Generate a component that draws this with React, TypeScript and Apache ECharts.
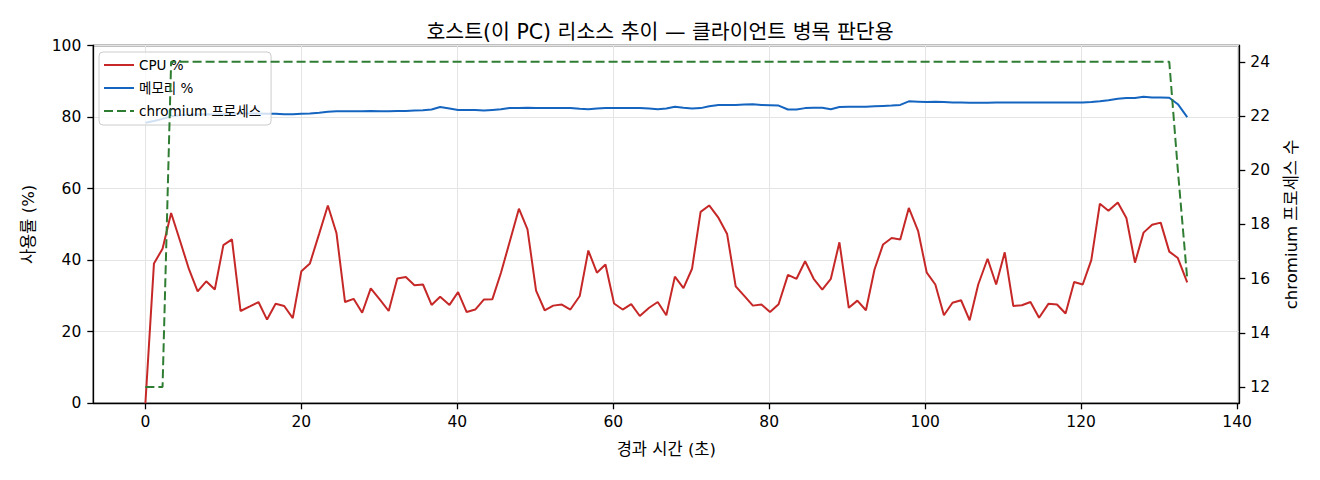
import React, { useEffect, useRef } from 'react';
import * as echarts from 'echarts';

// elapsed seconds of each sample
const times = [
  0, 1.1, 2.2, 3.3, 4.5, 5.6, 6.7, 7.8, 8.9, 10.0,
  11.1, 12.2, 13.4, 14.5, 15.6, 16.7, 17.8, 18.9, 20.0, 21.1,
  22.3, 23.4, 24.5, 25.6, 26.7, 27.8, 28.9, 30.1, 31.2, 32.3,
  33.4, 34.5, 35.6, 36.7, 37.8, 39.0, 40.1, 41.2, 42.3, 43.4,
  44.5, 45.6, 46.7, 47.9, 49.0, 50.1, 51.2, 52.3, 53.4, 54.5,
  55.7, 56.8, 57.9, 59.0, 60.1, 61.2, 62.3, 63.4, 64.6, 65.7,
  66.8, 67.9, 69.0, 70.1, 71.2, 72.3, 73.5, 74.6, 75.7, 76.8,
  77.9, 79.0, 80.1, 81.2, 82.4, 83.5, 84.6, 85.7, 86.8, 87.9,
  89.0, 90.2, 91.3, 92.4, 93.5, 94.6, 95.7, 96.8, 97.9, 99.1,
  100.2, 101.3, 102.4, 103.5, 104.6, 105.7, 106.8, 108.0, 109.1, 110.2,
  111.3, 112.4, 113.5, 114.6, 115.8, 116.9, 118.0, 119.1, 120.2, 121.3,
  122.4, 123.5, 124.7, 125.8, 126.9, 128.0, 129.1, 130.2, 131.3, 132.4,
  133.6,
];

const cpu = [
  0, 39.1, 43.2, 53.2, 45.0, 37.4, 31.3, 34.1, 31.8, 44.2,
  45.8, 25.8, 27.1, 28.3, 23.4, 27.8, 27.2, 23.8, 36.9, 39.1,
  47.5, 55.3, 47.6, 28.3, 29.2, 25.3, 32.1, 28.9, 25.8, 34.9,
  35.3, 33.0, 33.2, 27.5, 29.8, 27.5, 31.1, 25.5, 26.2, 29.0,
  29.1, 36.5, 45.0, 54.4, 48.6, 31.5, 26.0, 27.3, 27.6, 26.2,
  30.0, 42.7, 36.5, 38.8, 27.9, 26.2, 27.7, 24.4, 26.7, 28.3,
  24.6, 35.4, 32.2, 37.6, 53.5, 55.3, 51.8, 47.3, 32.7, 30.0,
  27.3, 27.6, 25.5, 27.7, 35.9, 34.8, 39.7, 34.8, 31.8, 34.8,
  45.0, 26.7, 28.7, 26.0, 37.4, 44.4, 46.2, 45.8, 54.6, 48.1,
  36.5, 33.2, 24.6, 28.1, 28.8, 23.2, 33.2, 40.4, 33.2, 42.2,
  27.2, 27.4, 28.3, 23.9, 27.8, 27.6, 25.1, 33.9, 33.2, 40.0,
  55.8, 53.8, 56.1, 51.8, 39.3, 47.7, 49.9, 50.5, 42.4, 40.6,
  33.8,
];

const memory = [
  78.4, 78.9, 79.5, 80.2, 80.5, 80.6, 80.7, 80.8, 80.7, 80.8,
  80.9, 81.0, 81.0, 81.0, 80.9, 80.9, 80.8, 80.8, 80.9, 81.0,
  81.2, 81.5, 81.6, 81.6, 81.6, 81.6, 81.7, 81.6, 81.6, 81.7,
  81.7, 81.8, 81.9, 82.1, 82.8, 82.4, 82.0, 82.0, 82.0, 81.8,
  82.0, 82.2, 82.5, 82.5, 82.6, 82.5, 82.5, 82.5, 82.5, 82.5,
  82.3, 82.2, 82.4, 82.5, 82.5, 82.5, 82.5, 82.5, 82.4, 82.2,
  82.4, 82.9, 82.6, 82.4, 82.5, 83.0, 83.4, 83.4, 83.4, 83.5,
  83.6, 83.4, 83.3, 83.2, 82.1, 82.1, 82.5, 82.6, 82.6, 82.2,
  82.8, 82.9, 82.9, 82.9, 83.0, 83.1, 83.2, 83.4, 84.4, 84.3,
  84.2, 84.3, 84.2, 84.1, 84.1, 84.0, 84.0, 84.0, 84.1, 84.1,
  84.1, 84.1, 84.1, 84.1, 84.1, 84.1, 84.1, 84.1, 84.1, 84.2,
  84.4, 84.7, 85.1, 85.3, 85.3, 85.7, 85.5, 85.5, 85.4, 83.6,
  80.0,
];

const chromium = [
  12, 12, 12, 24, 24, 24, 24, 24, 24, 24, 24, 24, 24, 24, 24, 24, 24, 24, 24, 24,
  24, 24, 24, 24, 24, 24, 24, 24, 24, 24, 24, 24, 24, 24, 24, 24, 24, 24, 24, 24,
  24, 24, 24, 24, 24, 24, 24, 24, 24, 24, 24, 24, 24, 24, 24, 24, 24, 24, 24, 24,
  24, 24, 24, 24, 24, 24, 24, 24, 24, 24, 24, 24, 24, 24, 24, 24, 24, 24, 24, 24,
  24, 24, 24, 24, 24, 24, 24, 24, 24, 24, 24, 24, 24, 24, 24, 24, 24, 24, 24, 24,
  24, 24, 24, 24, 24, 24, 24, 24, 24, 24, 24, 24, 24, 24, 24, 24, 24, 24, 24, 20,
  16,
];

const xTicks = [0, 20, 40, 60, 80, 100, 120, 140];
const procTicks = [12, 14, 16, 18, 20, 22, 24];

const FONT = "'DejaVu Sans', 'Noto Sans CJK KR', sans-serif";
const AXIS = { color: '#000', width: 1.3 };
const TICK_FS = 15.5;

const App: React.FC = () => {
  const chartRef = useRef<HTMLDivElement>(null);

  useEffect(() => {
    const chart = echarts.init(chartRef.current, null, { renderer: 'svg' });

    const pairs = (vals: number[]) => times.map((t, i) => [t, vals[i]]);

    const option = {
      animation: false,
      backgroundColor: '#fff',
      textStyle: { fontFamily: FONT },
      title: {
        text: '호스트(이 PC) 리소스 추이 — 클라이언트 병목 판단용',
        left: 'center',
        top: 17,
        textStyle: { fontSize: 20.5, fontWeight: 'normal', color: '#000', fontFamily: FONT },
      },
      grid: {
        left: 93.3,
        right: 80.7,
        top: 45.5,
        bottom: 76.7,
        show: true,
        borderColor: '#000',
        borderWidth: 1.3,
      },
      legend: {
        orient: 'vertical',
        left: 99,
        top: 52,
        padding: [6, 10, 7, 4],
        itemWidth: 30,
        itemHeight: 14,
        itemGap: 9,
        // hide the marker dot, keep only the line sample
        itemStyle: { opacity: 0 },
        backgroundColor: 'rgba(255,255,255,0.8)',
        borderColor: '#cccccc',
        borderWidth: 1,
        borderRadius: 4,
        textStyle: { fontSize: 13.5, color: '#000', fontFamily: FONT, lineHeight: 14 },
        data: ['CPU %', '메모리 %', 'chromium 프로세스'],
      },
      xAxis: {
        type: 'value',
        min: -6.68,
        max: 140.28,
        name: '경과 시간 (초)',
        nameLocation: 'middle',
        nameGap: 38,
        nameTextStyle: { fontSize: 16.5, color: '#000', fontFamily: FONT },
        axisLine: { show: true, onZero: false, lineStyle: AXIS },
        axisTick: { show: true, length: 6, lineStyle: AXIS, customValues: xTicks },
        axisLabel: { customValues: xTicks, margin: 11, fontSize: TICK_FS, color: '#000', fontFamily: FONT },
        splitLine: { show: true, lineStyle: { color: '#e4e4e4', width: 1 } },
      },
      yAxis: [
        {
          type: 'value',
          position: 'left',
          min: 0,
          max: 100,
          interval: 20,
          name: '사용률 (%)',
          nameLocation: 'middle',
          nameRotate: 90,
          nameGap: 57,
          nameTextStyle: { fontSize: 16.5, color: '#000', fontFamily: FONT },
          axisLine: { show: true, onZero: false, lineStyle: AXIS },
          axisTick: { show: true, length: 6, lineStyle: AXIS },
          axisLabel: { margin: 12, fontSize: TICK_FS, color: '#000', fontFamily: FONT },
          splitLine: { show: true, lineStyle: { color: '#e4e4e4', width: 1 } },
        },
        {
          type: 'value',
          position: 'right',
          min: 11.4,
          max: 24.6,
          name: 'chromium 프로세스 수',
          nameLocation: 'middle',
          nameRotate: 90,
          nameGap: 44,
          nameTextStyle: { fontSize: 16.5, color: '#000', fontFamily: FONT },
          axisLine: { show: true, onZero: false, lineStyle: AXIS },
          axisTick: { show: true, length: 6, lineStyle: AXIS, customValues: procTicks },
          axisLabel: { customValues: procTicks, margin: 11, fontSize: TICK_FS, color: '#000', fontFamily: FONT },
          splitLine: { show: false },
        },
      ],
      series: [
        {
          name: 'CPU %',
          type: 'line',
          yAxisIndex: 0,
          data: pairs(cpu),
          symbol: 'none',
          lineStyle: { color: '#c62828', width: 2 },
          itemStyle: { color: '#c62828' },
          z: 2,
        },
        {
          name: '메모리 %',
          type: 'line',
          yAxisIndex: 0,
          data: pairs(memory),
          symbol: 'none',
          lineStyle: { color: '#1565c0', width: 2 },
          itemStyle: { color: '#1565c0' },
          z: 2,
        },
        {
          // drawn on the twin axis, so it sits above the legend
          name: 'chromium 프로세스',
          type: 'line',
          yAxisIndex: 1,
          data: pairs(chromium),
          symbol: 'none',
          lineStyle: { color: '#2e7d32', width: 2, type: [9, 4] },
          itemStyle: { color: '#2e7d32' },
          z: 6,
        },
      ],
    };

    chart.setOption(option);

    return () => {
      chart.dispose();
    };
  }, []);

  return (
    <div
      ref={chartRef}
      style={{ position: 'fixed', left: 0, top: 0, width: 1320, height: 480 }}
    />
  );
};

export default App;
